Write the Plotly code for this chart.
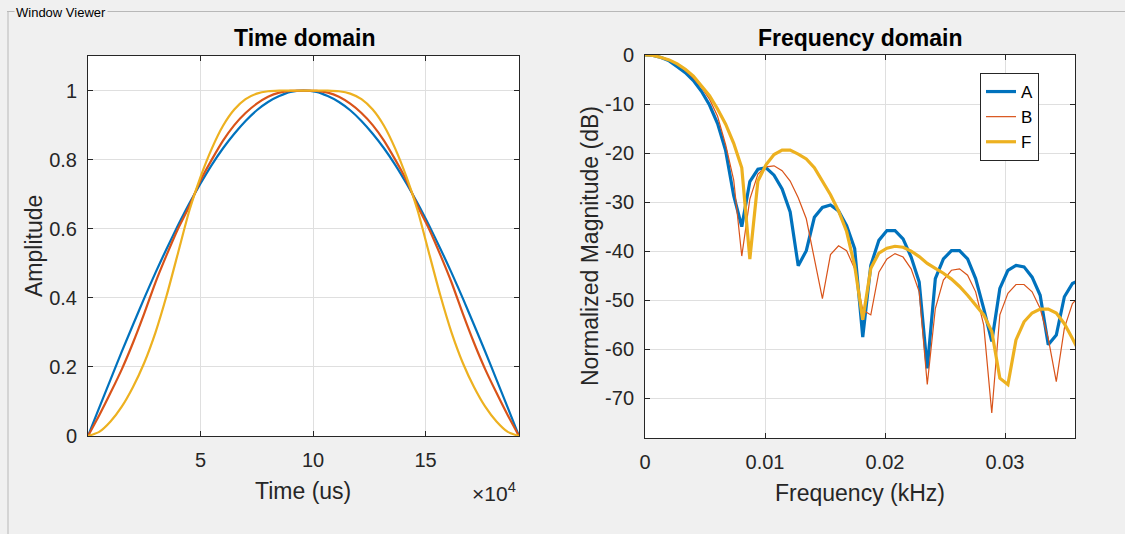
import plotly.graph_objects as go

W, H = 1125, 534

# ---------------- Time domain data ----------------
time_us = [0, 5000, 10000, 15000, 20000, 25000, 30000, 35000, 40000, 45000,
           50000, 55000, 60000, 65000, 70000, 75000, 80000, 85000, 90000, 95750,
           101500, 106500, 111500, 116500, 121500, 126500, 131500, 136500, 141500,
           146500, 151500, 156500, 161500, 166500, 171500, 176500, 181500, 186500, 191500]

amp_A = [0, 0.082, 0.163, 0.244, 0.322, 0.399, 0.473, 0.543, 0.610, 0.673,
         0.731, 0.785, 0.833, 0.875, 0.912, 0.943, 0.967, 0.984, 0.996, 1.0,
         0.996, 0.984, 0.967, 0.943, 0.912, 0.875, 0.833, 0.785, 0.731,
         0.673, 0.610, 0.543, 0.473, 0.399, 0.322, 0.244, 0.163, 0.082, 0]

amp_B = [0, 0.060, 0.125, 0.193, 0.270, 0.355, 0.445, 0.525, 0.600, 0.665,
         0.740, 0.800, 0.855, 0.900, 0.935, 0.962, 0.982, 0.994, 0.999, 1.0,
         0.999, 0.994, 0.982, 0.962, 0.935, 0.900, 0.855, 0.800, 0.740,
         0.665, 0.600, 0.525, 0.445, 0.355, 0.270, 0.193, 0.125, 0.060, 0]

amp_F = [0, 0.012, 0.042, 0.085, 0.142, 0.212, 0.300, 0.408, 0.530, 0.652,
         0.750, 0.832, 0.898, 0.945, 0.975, 0.991, 0.998, 1.0, 1.0, 1.0,
         1.0, 1.0, 0.998, 0.991, 0.975, 0.945, 0.898, 0.832, 0.750,
         0.652, 0.530, 0.408, 0.300, 0.212, 0.142, 0.085, 0.042, 0.012, 0]

# ---------------- Frequency domain data (dB) ----------------
bin_khz = 0.000672
mag_A = [0, -0.1, -0.5, -1.2, -2.4, -3.6, -5.2, -7.4, -10.2, -14.0,
         -19.5, -28.7, -35.0, -25.8, -23.3, -23.0, -24.5, -27.3, -32.0, -43.0,
         -39.9, -33.1, -31.1, -30.6, -31.8, -34.8, -39.5, -57.5, -42.9, -37.8,
         -35.8, -35.8, -37.5, -41.2, -46.3, -63.9, -45.6, -41.6, -39.9, -39.9,
         -41.6, -45.6, -51.7, -58.4, -47.6, -43.9, -42.9, -43.2, -45.3, -49.0,
         -59.1, -57.1, -49.3, -46.6, -45.8]
mag_B = [0, -0.1, -0.45, -1.0, -1.9, -3.1, -4.7, -6.6, -9.0, -12.5,
         -18.3, -25.5, -41.0, -29.4, -24.3, -22.8, -22.6, -23.6, -25.7, -29.1,
         -33.4, -41.6, -49.7, -40.7, -38.9, -39.9, -43.6, -52.0, -53.0, -44.3,
         -41.6, -40.5, -41.2, -43.6, -48.3, -67.2, -51.7, -45.9, -43.9, -43.6,
         -44.9, -48.3, -55.1, -73.0, -53.0, -48.6, -46.8, -46.8, -48.3, -51.7,
         -57.8, -66.6, -55.7, -50.7, -49.0]
mag_F = [0, -0.1, -0.5, -1.0, -1.8, -2.9, -4.3, -6.2, -8.3, -11.0,
         -14.1, -18.0, -23.0, -41.6, -25.7, -22.4, -20.3, -19.4, -19.4, -20.2,
         -21.2, -23.0, -25.8, -28.5, -31.8, -36.0, -43.0, -54.0, -43.5, -40.4,
         -39.4, -39.0, -39.2, -40.0, -41.1, -42.5, -43.5, -44.5, -45.7, -47.2,
         -49.0, -51.0, -53.0, -56.4, -65.9, -67.2, -58.1, -54.4, -52.6, -51.8,
         -51.8, -52.6, -54.8, -57.8, -61.0]
freq_khz = [round(k * bin_khz, 6) for k in range(len(mag_A))]

names = ["A", "B", "F"]
colors = ["#0072BD", "#D95319", "#EDB120"]

time_xticks = [50000, 100000, 150000]
time_xtext = ["5", "10", "15"]
time_yticks = [0, 0.2, 0.4, 0.6, 0.8, 1]
time_ytext = ["0", "0.2", "0.4", "0.6", "0.8", "1"]
freq_xticks = [0, 0.01, 0.02, 0.03]
freq_xtext = ["0", "0.01", "0.02", "0.03"]
freq_yticks = [0, -10, -20, -30, -40, -50, -60, -70]
freq_ytext = ["0", "-10", "-20", "-30", "-40", "-50", "-60", "-70"]

FONT = "Liberation Sans, Arial, Helvetica, sans-serif"
TXT = "#262626"

fig = go.Figure()

for amp, c in zip([amp_A, amp_B, amp_F], colors):
    fig.add_trace(go.Scatter(x=time_us, y=amp, mode="lines", showlegend=False,
                             line=dict(color=c, width=2.2, shape="spline", smoothing=0.6),
                             xaxis="x", yaxis="y", hoverinfo="skip"))

for mag, c, n, w in zip([mag_A, mag_B, mag_F], colors, names, [3.2, 1.2, 3.2]):
    fig.add_trace(go.Scatter(x=freq_khz, y=mag, mode="lines", name=n,
                             line=dict(color=c, width=w),
                             xaxis="x2", yaxis="y2"))

def px_x(p):
    return p / W

def px_y(p):
    return 1 - p / H

axis_common = dict(showline=True, linecolor=TXT, linewidth=1, mirror="ticks",
                   ticks="inside", ticklen=5, tickcolor=TXT, showgrid=True,
                   gridcolor="#DFDFDF", gridwidth=1, zeroline=False,
                   tickfont=dict(family=FONT, size=20, color=TXT), automargin=False)

fig.update_layout(
    width=W, height=H,
    margin=dict(l=0, r=0, t=0, b=0),
    paper_bgcolor="#F0F0F0",
    plot_bgcolor="#FFFFFF",
    font=dict(family=FONT, color=TXT),
    xaxis=dict(domain=[px_x(88), px_x(519)], range=[0, 191500], anchor="y",
               tickmode="array", tickvals=time_xticks, ticktext=time_xtext,
               ticklabelstandoff=6, **axis_common),
    yaxis=dict(domain=[px_y(436), px_y(56)], range=[0, 1.1], anchor="x",
               tickmode="array", tickvals=time_yticks, ticktext=time_ytext,
               ticklabelstandoff=6, **axis_common),
    xaxis2=dict(domain=[px_x(645), px_x(1075)], range=[0, 0.03583], anchor="y2",
                tickmode="array", tickvals=freq_xticks, ticktext=freq_xtext,
                ticklabelstandoff=6, **axis_common),
    yaxis2=dict(domain=[px_y(438), px_y(55)], range=[-78.1, 0], anchor="x2",
                tickmode="array", tickvals=freq_yticks, ticktext=freq_ytext,
                ticklabelstandoff=6, **axis_common),
    legend=dict(x=px_x(980), y=px_y(73), xanchor="left", yanchor="top",
                bgcolor="#FFFFFF", bordercolor=TXT, borderwidth=1,
                font=dict(family=FONT, size=17, color="#000000"),
                tracegroupgap=0, itemwidth=30),
    showlegend=True,
)

ann = []
def add_text(text, x, y, size, bold=False, angle=0, xanchor="center", yanchor="middle", color="#000000", bg=None):
    d = dict(text=("<b>%s</b>" % text) if bold else text, x=px_x(x), y=px_y(y),
             xref="paper", yref="paper", showarrow=False, xanchor=xanchor, yanchor=yanchor,
             textangle=angle, font=dict(family=FONT, size=size, color=color))
    if bg:
        d["bgcolor"] = bg
    ann.append(d)

add_text("Time domain", 304, 38, 23, bold=True)
add_text("Frequency domain", 860, 38, 23, bold=True)
add_text("Amplitude", 34, 246, 23, angle=-90, color=TXT)
add_text("Time (us)", 303, 491, 23, color=TXT)
add_text("×10<sup>4</sup>", 494, 492, 21, color=TXT)
add_text("Frequency (kHz)", 860, 493, 23, color=TXT)
add_text("Normalized Magnitude (dB)", 590, 246, 23, angle=-90, color=TXT)
add_text("Window Viewer", 14, 12, 13, xanchor="left", color="#000000", bg="#F0F0F0")

fig.update_layout(
    annotations=ann,
    shapes=[
        dict(type="line", xref="paper", yref="paper", x0=px_x(7), x1=1.0,
             y0=px_y(11.5), y1=px_y(11.5), line=dict(color="#B8B8B8", width=1), layer="below"),
        dict(type="line", xref="paper", yref="paper", x0=px_x(8), x1=px_x(8),
             y0=px_y(11.5), y1=0.0, line=dict(color="#B8B8B8", width=1), layer="below"),
    ],
)

fig.write_html("out.html", config={"displayModeBar": False},
               post_script="document.body.style.margin='0';document.body.style.overflow='hidden';")
